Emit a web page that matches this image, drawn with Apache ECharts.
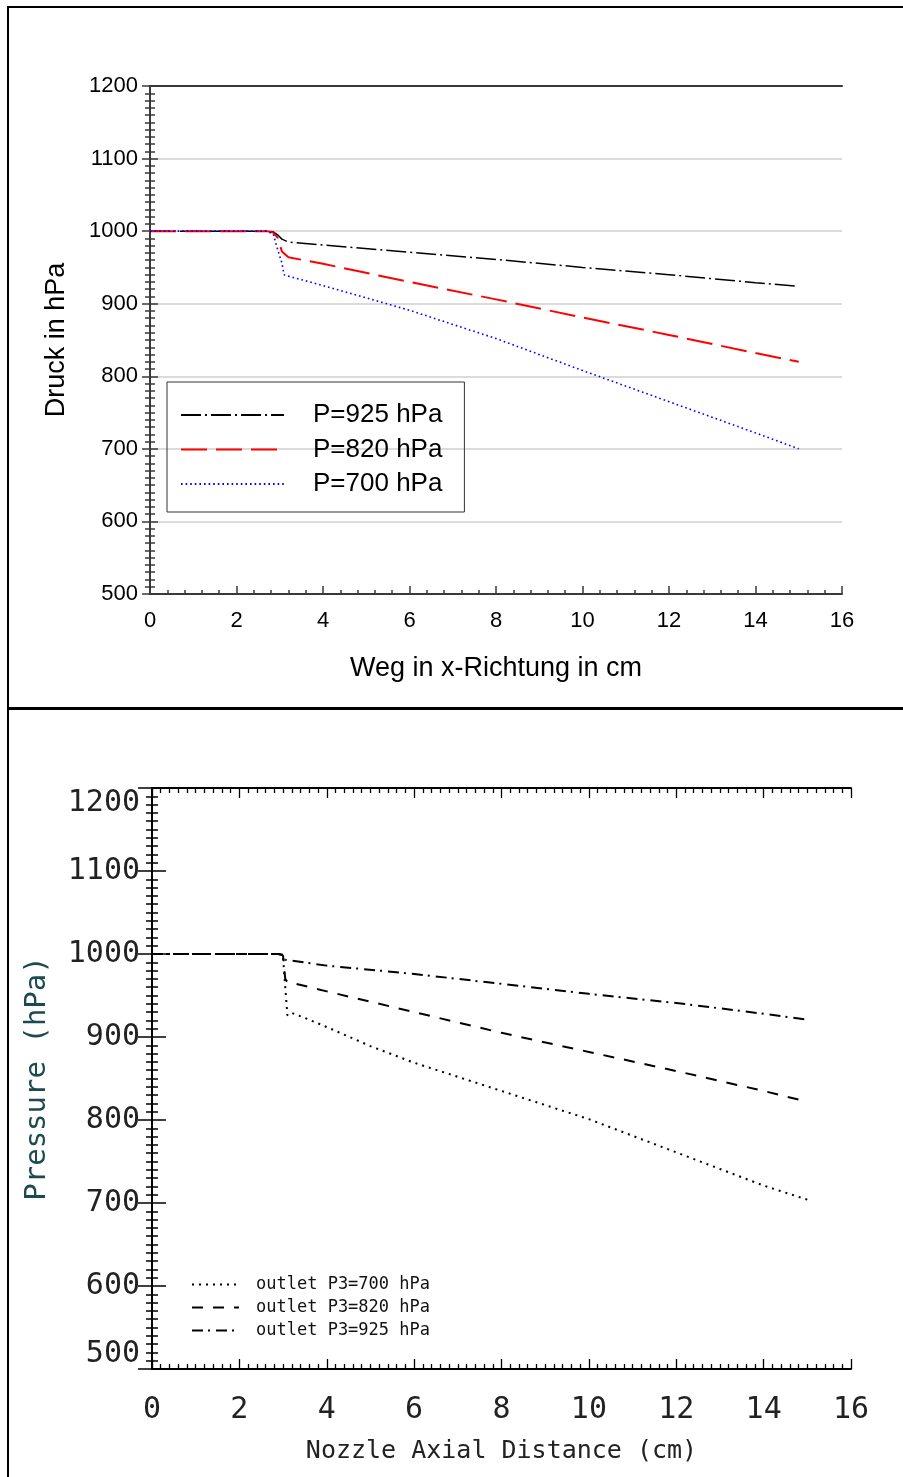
<!DOCTYPE html>
<html>
<head>
<meta charset="utf-8">
<script src="https://cdn.jsdelivr.net/npm/echarts@6/dist/echarts.min.js"></script>
<style>
  html, body { margin: 0; padding: 0; background: #fff; overflow: hidden; }
  #frame { position: absolute; left: 7px; top: 6px; width: 1000px; height: 1500px;
           border-left: 2.5px solid #000; border-top: 2.5px solid #000; }
  #divider { position: absolute; left: 7px; top: 707px; width: 1000px; height: 3px; background: #000; }
  #chart { position: absolute; left: 0; top: 0; width: 903px; height: 1477px; }
</style>
</head>
<body>
<div id="frame"></div>
<div id="divider"></div>
<div id="chart"></div>
<script>
// Upper panel: pressure along the channel (German labels)
const druck925 = [[0,1000],[2.7,1000],[2.85,999],[2.95,995],[3.05,989],[3.2,985],[4,981],[6,971],[8,961],[10,950],[12,940],[14,929],[15,924]];
const druck820 = [[0,1000],[2.7,1000],[2.85,998],[2.95,991],[3.05,972],[3.2,964],[4,955],[6,930],[8,906],[10,881],[12,857],[14,832],[15,820]];
const druck700 = [[0,1000],[2.7,1000],[2.85,996],[2.95,975],[3.05,956],[3.1,940],[3.2,938],[4,925],[6,891],[8,852],[10,808],[12,765],[14,722],[15,700]];
const namesTop = ['P=925 hPa', 'P=820 hPa', 'P=700 hPa'];

// Lower panel: nozzle axial pressure
const outlet700 = [[0,1000],[2.9,1000],[3.0,996],[3.05,960],[3.1,926],[3.2,929],[3.5,923],[4,912],[5,889],[6,869],[8,835],[10,801],[12,761],[14,721],[15,704]];
const outlet820 = [[0,1000],[2.9,1000],[3.0,998],[3.05,970],[3.1,966],[3.3,964],[4,955],[6,930],[8,905],[10,882],[12,859],[14,835],[15,822]];
const outlet925 = [[0,1000],[2.9,1000],[3.0,999],[3.05,993],[3.2,992],[4,986],[6,976],[8,964],[10,952],[12,941],[14,928],[15,921]];
const namesBottom = ['outlet P3=700 hPa', 'outlet P3=820 hPa', 'outlet P3=925 hPa'];

const xRange = { min: 0, max: 16, interval: 2 };
const yRange = { min: 500, max: 1200, interval: 100 };

const SANS = 'Liberation Sans';
const MONO = 'DejaVu Sans Mono';
const axisGray = '#3a3a3a';
const plain = v => String(v);

// major and minor ticks pointing into the plot area
function ticks(color, major, minor, minorSplit, width) {
  return {
    axisTick: { show: true, inside: true, length: major, lineStyle: { color, width } },
    minorTick: { show: true, splitNumber: minorSplit, length: minor, lineStyle: { color, width } }
  };
}

const chart = echarts.init(document.getElementById('chart'), null, { renderer: 'canvas' });

const option = {
  animation: false,
  backgroundColor: 'transparent',
  grid: [
    { left: 150, right: 61, top: 86, bottom: 883 },
    { left: 152, right: 52, top: 788, bottom: 108 }
  ],
  legend: [
    {
      data: namesTop,
      orient: 'vertical',
      left: 167, top: 382,
      padding: [18, 22, 13, 13],
      itemGap: 4.5,
      itemWidth: 103, itemHeight: 14,
      borderColor: '#333', borderWidth: 1,
      selectedMode: false,
      itemStyle: { opacity: 0 },
      textStyle: { fontFamily: SANS, fontSize: 26, color: '#000', lineHeight: 30, padding: [0, 0, 0, 24] }
    },
    {
      data: namesBottom,
      orient: 'vertical',
      left: 191, top: 1273,
      padding: 0,
      itemGap: 0,
      itemWidth: 47, itemHeight: 10,
      selectedMode: false,
      itemStyle: { opacity: 0 },
      textStyle: { fontFamily: MONO, fontSize: 17, color: '#111', lineHeight: 23, padding: [0, 0, 0, 12] }
    }
  ],
  xAxis: [
    {
      gridIndex: 0, type: 'value', position: 'bottom', ...xRange,
      axisLine: { show: true, lineStyle: { color: axisGray, width: 2 } },
      ...ticks(axisGray, 8, 4, 5, 1.5),
      splitLine: { show: false },
      axisLabel: { fontFamily: SANS, fontSize: 22, color: '#000', margin: 16, formatter: plain },
      name: 'Weg in x-Richtung in cm', nameLocation: 'middle', nameGap: 61, nameMoveOverlap: false,
      nameTextStyle: { fontFamily: SANS, fontSize: 27, color: '#000' }
    },
    {
      gridIndex: 0, type: 'value', position: 'top', ...xRange,
      axisLine: { show: true, lineStyle: { color: axisGray, width: 2 } },
      axisTick: { show: false }, axisLabel: { show: false }, splitLine: { show: false }
    },
    {
      gridIndex: 1, type: 'value', position: 'bottom', ...xRange,
      axisLine: { show: true, lineStyle: { color: '#000', width: 2 } },
      ...ticks('#000', 10, 5, 10, 1.3),
      splitLine: { show: false },
      axisLabel: { fontFamily: MONO, fontSize: 30, color: '#222', margin: 26, formatter: plain },
      name: 'Nozzle Axial Distance (cm)', nameLocation: 'middle', nameGap: 70, nameMoveOverlap: false,
      nameTextStyle: { fontFamily: MONO, fontSize: 25, color: '#222' }
    },
    {
      gridIndex: 1, type: 'value', position: 'top', ...xRange,
      axisLine: { show: true, lineStyle: { color: '#000', width: 2 } },
      ...ticks('#000', 10, 5, 10, 1.3),
      axisLabel: { show: false }, splitLine: { show: false }
    }
  ],
  yAxis: [
    {
      gridIndex: 0, type: 'value', position: 'left', ...yRange,
      axisLine: { show: true, lineStyle: { color: axisGray, width: 2 } },
      ...ticks(axisGray, 8, 5, 10, 1.5),
      splitLine: { show: true, lineStyle: { color: '#cfcfcf', width: 1.5 } },
      axisLabel: { fontFamily: SANS, fontSize: 22, color: '#000', margin: 12, formatter: plain },
      name: 'Druck in hPa', nameLocation: 'middle', nameGap: 80, nameMoveOverlap: false,
      nameTextStyle: { fontFamily: SANS, fontSize: 27, color: '#000' }
    },
    {
      gridIndex: 0, type: 'value', position: 'right', ...yRange,
      axisLine: { show: true, lineStyle: { color: axisGray, width: 2 } },
      ...ticks(axisGray, 8, 5, 10, 1.5),
      splitLine: { show: false }, axisLabel: { show: false }
    },
    {
      gridIndex: 1, type: 'value', position: 'left', ...yRange,
      axisLine: { show: true, lineStyle: { color: '#000', width: 2 } },
      ...ticks('#000', 14, 6, 10, 1.5),
      splitLine: { show: false },
      axisLabel: { fontFamily: MONO, fontSize: 30, color: '#222', margin: 12, formatter: plain,
                   verticalAlignMaxLabel: 'top', verticalAlignMinLabel: 'bottom' },
      name: 'Pressure (hPa)', nameLocation: 'middle', nameGap: 100, nameMoveOverlap: false,
      nameTextStyle: { fontFamily: MONO, fontSize: 29, color: '#1d4a4f' }
    },
    {
      gridIndex: 1, type: 'value', position: 'right', ...yRange,
      axisLine: { show: true, lineStyle: { color: '#000', width: 2 } },
      ...ticks('#000', 14, 6, 10, 1.5),
      splitLine: { show: false }, axisLabel: { show: false }
    }
  ],
  series: [
    { name: namesTop[0], type: 'line', xAxisIndex: 0, yAxisIndex: 0, data: druck925,
      showSymbol: false, symbol: 'none', color: '#000',
      lineStyle: { color: '#000', width: 1.5, type: [20, 4, 2, 4] } },
    { name: namesTop[1], type: 'line', xAxisIndex: 0, yAxisIndex: 0, data: druck820,
      showSymbol: false, symbol: 'none', color: '#ff0000',
      lineStyle: { color: '#ff0000', width: 2, type: [26, 9] } },
    { name: namesTop[2], type: 'line', xAxisIndex: 0, yAxisIndex: 0, data: druck700,
      showSymbol: false, symbol: 'none', color: '#0000ff',
      lineStyle: { color: '#0000ff', width: 1.6, type: [1.6, 3] } },

    { name: namesBottom[0], type: 'line', xAxisIndex: 2, yAxisIndex: 2, data: outlet700,
      showSymbol: false, symbol: 'none', color: '#000',
      lineStyle: { color: '#000', width: 2, type: [2, 5] } },
    { name: namesBottom[1], type: 'line', xAxisIndex: 2, yAxisIndex: 2, data: outlet820,
      showSymbol: false, symbol: 'none', color: '#000',
      lineStyle: { color: '#000', width: 2, type: [11, 10] } },
    { name: namesBottom[2], type: 'line', xAxisIndex: 2, yAxisIndex: 2, data: outlet925,
      showSymbol: false, symbol: 'none', color: '#000',
      lineStyle: { color: '#000', width: 2, type: [11, 5, 2, 6] } }
  ]
};

chart.setOption(option);
</script>
</body>
</html>
